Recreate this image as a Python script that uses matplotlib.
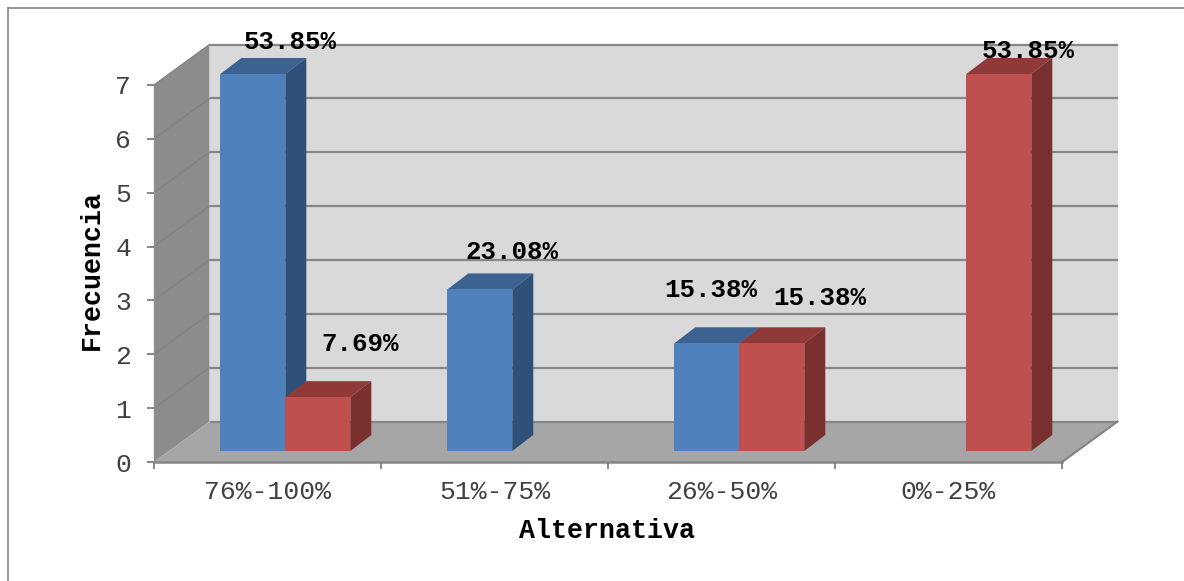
import matplotlib
matplotlib.use("Agg")
import matplotlib.pyplot as plt
from matplotlib.lines import Line2D

categories = ["76%-100%", "51%-75%", "26%-50%", "0%-25%"]
blue_values = [7, 3, 2, 0]
red_values = [1, 0, 2, 7]
blue_labels = ["53.85%", "23.08%", "15.38%", ""]
red_labels = ["7.69%", "", "15.38%", "53.85%"]
y_ticks = [0, 1, 2, 3, 4, 5, 6, 7]

W, H = 1184, 581
MONO = "Liberation Mono"
GREY = "#868686"
TEXT = "#404040"

# oblique offsets, in data units (one category = 227 px, one unit = 53.9 px)
PX_X = 227.0
PX_Y = 377 / 7
WALL_DX, WALL_DY = 55.5 / PX_X, 40.5 / PX_Y
BAR_DX, BAR_DY = 21 / PX_X, 16 / PX_Y
BAR_SHIFT_X, BAR_SHIFT_Y = 17.8 / PX_X, 11 / PX_Y
BAR_W = 65 / PX_X


def draw_bar(ax, left, value, front, top, side):
    if value == 0:
        return
    right = left + BAR_W
    y0 = BAR_SHIFT_Y
    y1 = BAR_SHIFT_Y + value
    ax.fill([left, right, right + BAR_DX, left + BAR_DX],
            [y1, y1, y1 + BAR_DY, y1 + BAR_DY], color=top, lw=0, zorder=4, clip_on=False)
    ax.fill([right, right + BAR_DX, right + BAR_DX, right],
            [y0, y0 + BAR_DY, y1 + BAR_DY, y1], color=side, lw=0, zorder=4, clip_on=False)
    ax.bar(left, value, BAR_W, bottom=y0, align="edge", color=front, lw=0,
           zorder=4, clip_on=False)


fig = plt.figure(figsize=(W / 100, H / 100), dpi=100, facecolor="white")
ax = fig.add_axes([154 / W, (H - 462) / H, 908 / W, 377 / H])
ax.set_xlim(0, 4)
ax.set_ylim(0, 7)
ax.patch.set_visible(False)

# walls and floor
ax.fill([WALL_DX, 4 + WALL_DX, 4 + WALL_DX, WALL_DX],
        [WALL_DY, WALL_DY, 7 + WALL_DY, 7 + WALL_DY], color="#d9d9d9", lw=0, zorder=1, clip_on=False)
ax.fill([0, WALL_DX, WALL_DX, 0], [0, WALL_DY, 7 + WALL_DY, 7],
        color="#8c8c8c", lw=0, zorder=1, clip_on=False)
ax.fill([0, 4, 4 + WALL_DX, WALL_DX], [0, 0, WALL_DY, WALL_DY],
        color="#a6a6a6", lw=0, zorder=1, clip_on=False)

# gridlines on back wall, fainter where they cross the side wall
for v in y_ticks:
    ax.plot([WALL_DX, 4 + WALL_DX], [v + WALL_DY] * 2, color=GREY, lw=1.6, zorder=2,
            clip_on=False, solid_capstyle="butt")
    if v > 0:
        ax.plot([0, WALL_DX], [v, v + WALL_DY], color="#828282", lw=1.0, zorder=2, clip_on=False)
ax.plot([4, 4 + WALL_DX], [0, WALL_DY], color=GREY, lw=1.6, zorder=2, clip_on=False)

# bars
for i in range(len(categories)):
    center = i + 0.5 + BAR_SHIFT_X
    draw_bar(ax, center - BAR_W, blue_values[i], "#4f81bd", "#3c6291", "#2f5078")
    draw_bar(ax, center, red_values[i], "#c0504d", "#8f3a38", "#7a302e")

# value labels, pixel offsets from the top-centre of each front face
blue_offsets = [(37, 32), (32, 37), (4, 53), (0, 0)]
red_offsets = [(42, 53), (0, 0), (48, 45), (29, 23)]
for i in range(len(categories)):
    center = i + 0.5 + BAR_SHIFT_X
    for lab, val, cx, off in [
        (blue_labels[i], blue_values[i], center - BAR_W / 2, blue_offsets[i]),
        (red_labels[i], red_values[i], center + BAR_W / 2, red_offsets[i]),
    ]:
        if lab:
            ax.annotate(lab, (cx, val + BAR_SHIFT_Y),
                        xytext=(off[0] * 0.72, off[1] * 0.72), textcoords="offset points",
                        ha="center", va="center", family=MONO, fontweight="bold",
                        fontsize=18.6, color="black", zorder=6, annotation_clip=False)

for name in ["top", "right"]:
    ax.spines[name].set_visible(False)
ax.spines["left"].set_color("#909090")
ax.spines["left"].set_linewidth(1.0)
ax.spines["bottom"].set_color(GREY)
ax.spines["bottom"].set_linewidth(1.8)
ax.spines["left"].set_zorder(3)
ax.spines["bottom"].set_zorder(3)

ax.set_yticks(y_ticks)
ax.set_xticks([0, 1, 2, 3, 4])
ax.set_xticklabels([])
ax.set_xticks([0.5, 1.5, 2.5, 3.5], minor=True)
ax.set_xticklabels(categories, minor=True, family=MONO, fontsize=19, color=TEXT)
ax.tick_params(axis="x", which="major", length=5, width=1.4, color=GREY)
ax.tick_params(axis="x", which="minor", length=0, pad=13)
ax.tick_params(axis="y", length=5, width=1.4, color=GREY, pad=11.5, labelsize=19, labelcolor=TEXT)
for t in ax.get_yticklabels():
    t.set_family(MONO)

ax.set_xlabel("Alternativa", family=MONO, fontweight="bold", fontsize=19.2, color="black", va="center")
ax.xaxis.set_label_coords(0.499, -69 / 377)
ax.set_ylabel("Frecuencia", family=MONO, fontweight="bold", fontsize=19.2, color="black", va="center")
ax.yaxis.set_label_coords(-62 / 908, (462 - 270) / 377)

# chart-area border, open on the right and at the bottom
fig.add_artist(Line2D([7.5 / W, 7.5 / W], [0, 1 - 7.5 / H], color=GREY, lw=1.2))
fig.add_artist(Line2D([7.5 / W, 1], [1 - 7.5 / H, 1 - 7.5 / H], color=GREY, lw=1.2))

fig.savefig("out.png", dpi=100)
